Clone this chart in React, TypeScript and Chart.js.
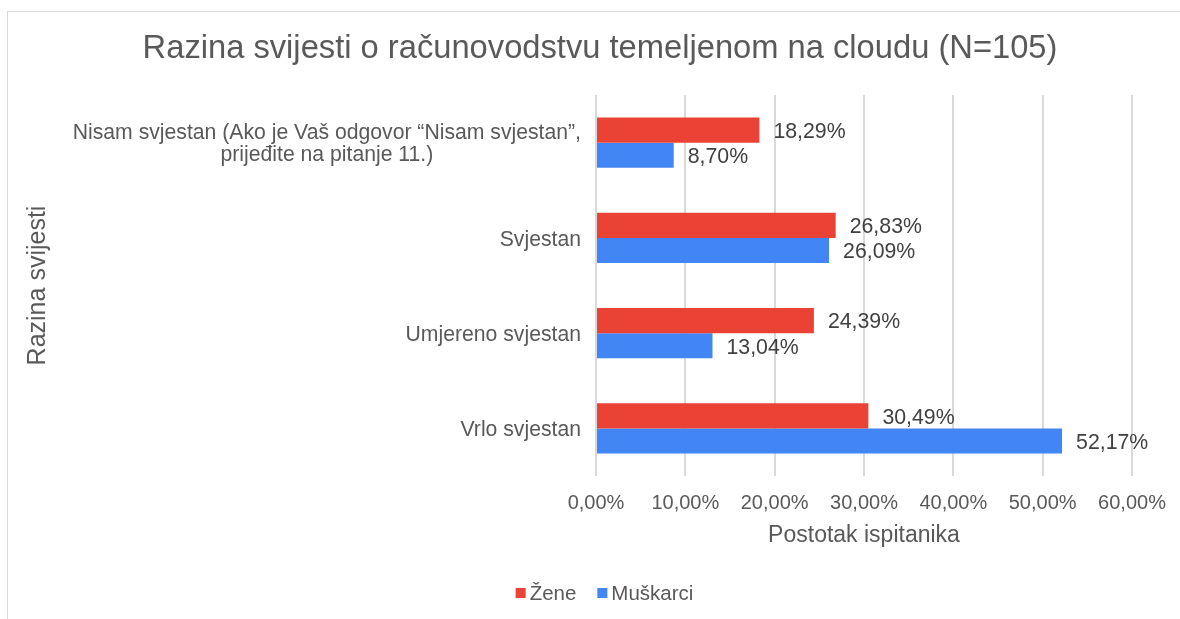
import React, { useEffect, useRef } from "react";
import { Chart, registerables } from "chart.js";

Chart.register(...registerables);

const chartTitle = "Razina svijesti o računovodstvu temeljenom na cloudu (N=105)";
const categoryLines: string[][] = [
  ["Nisam svjestan (Ako je Vaš odgovor “Nisam svjestan”,", "prijeđite na pitanje 11.)"],
  ["Svjestan"],
  ["Umjereno svjestan"],
  ["Vrlo svjestan"],
];
const seriesNames = ["Žene", "Muškarci"];
const seriesColors = ["#EA4335", "#4285F4"];
const zeneValues = [18.29, 26.83, 24.39, 30.49];
const muskarciValues = [8.7, 26.09, 13.04, 52.17];
const xAxisMin = 0;
const xAxisMax = 60;
const xAxisStep = 10;
const xAxisTitle = "Postotak ispitanika";
const yAxisTitle = "Razina svijesti";

const FONT = '"Liberation Sans", Arial, sans-serif';
const TEXT = "#595959";

const fmt = (v: number) => v.toFixed(2).replace(".", ",") + "%";

const titlePlugin = {
  id: "customTitle",
  afterDraw(chart: any) {
    const { ctx } = chart;
    ctx.save();
    ctx.font = `32.7px ${FONT}`;
    ctx.fillStyle = TEXT;
    ctx.textBaseline = "middle";
    ctx.textAlign = "center";
    ctx.fillText(chartTitle, 592, 36.5);
    ctx.restore();
  },
};

const legendPlugin = {
  id: "customLegend",
  afterDraw(chart: any) {
    const { ctx } = chart;
    ctx.save();
    ctx.font = `20.5px ${FONT}`;
    ctx.textBaseline = "middle";
    ctx.textAlign = "left";
    const box = 10;
    const gapBoxText = 4;
    const gapItems = 21;
    const widths = chart.data.datasets.map(
      (ds: any) => box + gapBoxText + ctx.measureText(ds.label).width
    );
    const total = widths.reduce((a: number, b: number) => a + b, 0) + gapItems * (widths.length - 1);
    let x = 596.5 - total / 2;
    const yc = 581;
    chart.data.datasets.forEach((ds: any, i: number) => {
      ctx.fillStyle = ds.backgroundColor;
      ctx.fillRect(x, yc - box / 2, box, box);
      ctx.fillStyle = TEXT;
      ctx.fillText(ds.label, x + box + gapBoxText, yc + 1);
      x += widths[i] + gapItems;
    });
    ctx.restore();
  },
};

const yLabelPlugin = {
  id: "yLabels",
  afterDraw(chart: any) {
    const { ctx } = chart;
    const scale = chart.scales.y;
    ctx.save();
    ctx.font = `21.2px ${FONT}`;
    ctx.fillStyle = TEXT;
    ctx.textBaseline = "middle";
    ctx.textAlign = "center";
    const right = scale.right - 15;
    const lh = 22;
    categoryLines.forEach((lines, i) => {
      const yc = scale.getPixelForTick(i) + 2;
      const widest = Math.max(...lines.map((l) => ctx.measureText(l).width));
      const cx = right - widest / 2;
      lines.forEach((l, j) => {
        ctx.fillText(l, cx, yc + (j - (lines.length - 1) / 2) * lh);
      });
    });
    ctx.restore();
  },
};

const dataLabelPlugin = {
  id: "dataLabels",
  afterDatasetsDraw(chart: any) {
    const { ctx } = chart;
    ctx.save();
    ctx.font = `21.3px ${FONT}`;
    ctx.fillStyle = "#404040";
    ctx.textBaseline = "middle";
    ctx.textAlign = "left";
    chart.data.datasets.forEach((ds: any, di: number) => {
      const meta = chart.getDatasetMeta(di);
      meta.data.forEach((el: any, i: number) => {
        ctx.fillText(fmt(ds.data[i]), el.x + 14, el.y + 2);
      });
    });
    ctx.restore();
  },
};

export default function App() {
  const ref = useRef<HTMLCanvasElement | null>(null);
  useEffect(() => {
    if (!ref.current) return;
    const chart = new Chart(ref.current, {
      type: "bar",
      data: {
        labels: categoryLines.map((l) => l.join(" ")),
        datasets: [
          {
            label: seriesNames[0],
            data: zeneValues,
            backgroundColor: seriesColors[0],
            categoryPercentage: 0.526,
            barPercentage: 1,
          },
          {
            label: seriesNames[1],
            data: muskarciValues,
            backgroundColor: seriesColors[1],
            categoryPercentage: 0.526,
            barPercentage: 1,
          },
        ],
      },
      options: {
        indexAxis: "y",
        animation: false,
        responsive: false,
        maintainAspectRatio: false,
        layout: { padding: { left: 0, right: 62, top: 0, bottom: 70.5 } },
        plugins: {
          title: {
            display: true,
            text: chartTitle,
            color: "rgba(0,0,0,0)",
            font: { family: FONT, size: 32, weight: "normal" },
            padding: { top: 17, bottom: 27.6 },
          },
          legend: { display: false },
          tooltip: { enabled: false },
        },
        scales: {
          x: {
            type: "linear",
            min: xAxisMin,
            max: xAxisMax,
            grid: {
              color: "#d9d9d9",
              lineWidth: 2,
              drawTicks: true,
              tickLength: 12,
              tickColor: "rgba(0,0,0,0)",
            },
            border: { display: false },
            ticks: {
              stepSize: xAxisStep,
              padding: 3,
              color: TEXT,
              font: { family: FONT, size: 20 },
              callback: (v: any) => fmt(Number(v)),
            },
            title: {
              display: true,
              text: xAxisTitle,
              color: TEXT,
              font: { family: FONT, size: 23 },
              padding: { top: 4, bottom: 11.9 },
            },
          },
          y: {
            type: "category",
            grid: { display: false },
            border: { display: false },
            ticks: { display: false },
            afterFit: (scale: any) => {
              scale.width = 588;
            },
            title: {
              display: true,
              text: yAxisTitle,
              color: TEXT,
              font: { family: FONT, size: 25 },
              padding: { top: 15, bottom: 0 },
            },
          },
        },
      },
      plugins: [yLabelPlugin, dataLabelPlugin, titlePlugin, legendPlugin],
    } as any);
    return () => chart.destroy();
  }, []);

  return (
    <div
      style={{
        position: "fixed",
        left: 0,
        top: 0,
        width: 1180,
        height: 619,
        overflow: "hidden",
        background: "#ffffff",
      }}
    >
      <div
        style={{
          position: "absolute",
          left: 7,
          top: 11,
          width: 1200,
          height: 700,
          border: "1px solid #d9d9d9",
          boxSizing: "border-box",
        }}
      />
      <canvas
        ref={ref}
        width={1186}
        height={620}
        style={{ position: "absolute", left: 8, top: 12, width: 1186, height: 620 }}
      />
    </div>
  );
}
